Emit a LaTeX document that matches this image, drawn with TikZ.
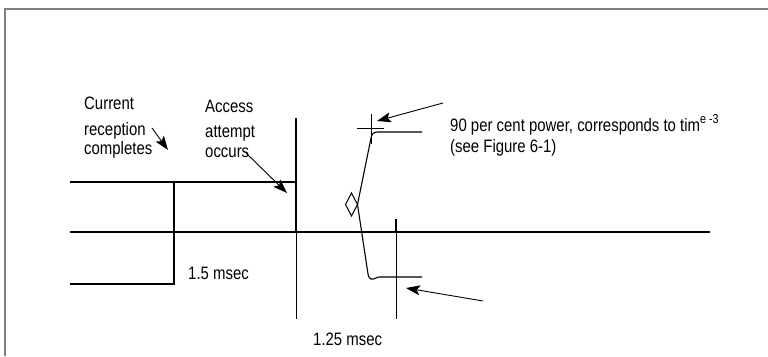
\documentclass[tikz,border=0pt]{standalone}
\usepackage{fontspec}
\setmainfont{Liberation Sans}[FakeStretch=0.83]
\usetikzlibrary{arrows.meta}
\begin{document}
\begin{tikzpicture}[x=1pt,y=-1pt,
  sig/.style={line width=2pt, line join=miter},
  thinline/.style={line width=1pt},
  curve/.style={line width=1.1pt, line join=round},
  lbl/.style={anchor=base west, inner sep=0pt, font=\fontsize{18}{21}\selectfont},
  pointer/.style={line width=0.9pt, -{Stealth[length=14pt,width=10pt,inset=3pt]}},
]
\useasboundingbox (0,0) rectangle (768,356);
\fill[white] (0,0) rectangle (768,356);
% frame
\draw[line width=2pt, gray] (5,356) -- (5,9) -- (768,9);

% coordinates
\coordinate (hiL) at (70,182);
\coordinate (hiR) at (296,182);
\coordinate (stepT) at (174,182);
\coordinate (stepB) at (174,284);
\coordinate (loL) at (70,284);
\coordinate (midL) at (70,232);
\coordinate (midR) at (710,232);
\coordinate (vaT) at (296,118);
\coordinate (vaM) at (296,232);
\coordinate (vaB) at (296,319);
\coordinate (vbT) at (396,219);
\coordinate (vbM) at (396,232);
\coordinate (vbB) at (396,319);

% signal lines
\draw[sig] (hiL) -- (hiR);
\draw[sig] (loL) -- (stepB) -- (stepT);
\draw[sig] (midL) -- (midR);
\draw[sig] (vaT) -- (vaM);
\draw[thinline] (vaM) -- (vaB);
\draw[sig] (vbT) -- (vbM);
\draw[thinline] (vbM) -- (vbB);

% power curve
\coordinate (dR) at (357.5,204.5);
\coordinate (dT) at (351.5,193);
\coordinate (dL) at (345.5,204.5);
\coordinate (dB) at (351.5,216);
\draw[curve] (422,132) -- (378,132) .. controls (373,132) and (372,134) .. (371,138)
  -- (dR) -- (368,274) .. controls (369,280) and (372,280) .. (376,278)
  .. controls (378,277) .. (382,277) -- (422,277);
\draw[thinline] (dR) -- (dT) -- (dL) -- (dB) -- cycle;
% top crosshair
\coordinate (chL) at (357,128);
\coordinate (chR) at (384,128);
\coordinate (chT) at (371,114);
\coordinate (chB) at (371,144);
\draw[thinline] (chL) -- (chR);
\draw[thinline] (chT) -- (chB);

% labels
\node[lbl] (cur1) at (84,109) {Current};
\node[lbl] (cur2) at (84,135) {reception};
\node[lbl] (cur3) at (84,154) {completes};
\node[lbl] (acc1) at (205,112) {Access};
\node[lbl] (acc2) at (205,137) {attempt};
\node[lbl] (acc3) at (205,157) {occurs};
\node[lbl] (pw1) at (450,131) {90 per cent power, corresponds to tim\raisebox{8pt}{\fontsize{13}{14}\selectfont e -3}};
\node[lbl] (pw2) at (450,152) {(see Figure 6-1)};
\node[lbl] (t15) at (188,279) {1.5 msec};
\node[lbl] (t125) at (313,345) {1.25 msec};

% pointers
\coordinate (p1s) at (152,128);
\coordinate (p1t) at (168,150);
\coordinate (p2s) at (246,153);
\coordinate (p2t) at (287,193);
\coordinate (p3s) at (443,103);
\coordinate (p3t) at (377,121);
\coordinate (p4s) at (483,301);
\coordinate (p4t) at (406,288);
\draw[pointer] (p1s) -- (p1t);
\draw[pointer] (p2s) -- (p2t);
\draw[pointer] (p3s) -- (p3t);
\draw[pointer] (p4s) -- (p4t);
\end{tikzpicture}
\end{document}
